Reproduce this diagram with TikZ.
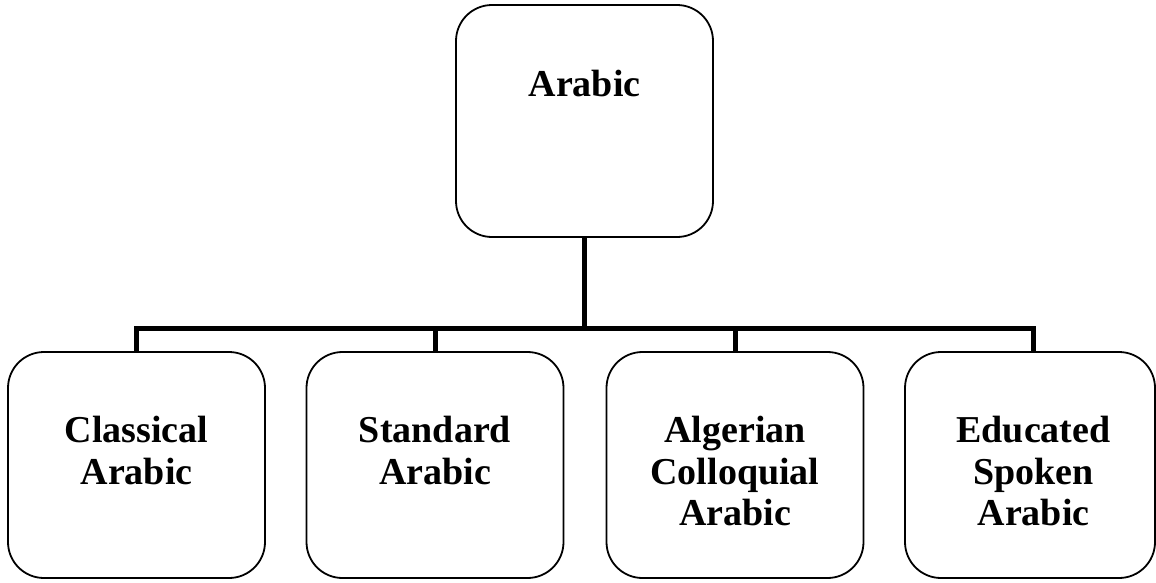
\documentclass[tikz,border=0pt]{standalone}
\usepackage{fontspec}
\setmainfont{Liberation Serif}
\begin{document}
\begin{tikzpicture}[x=1pt,y=1pt,
  box/.style={draw, line width=1.8pt, rounded corners=36pt, inner sep=0pt, minimum height=226pt, minimum width=257pt},
  lbl/.style={font=\bfseries\fontsize{38}{41.5}\selectfont, align=center, anchor=north, inner sep=0pt},
  conn/.style={line width=5pt, line join=miter}]
\useasboundingbox (0,0) rectangle (1156,-582);
% boxes
\node[box, minimum height=232pt] (top) at (584.5,-121) {};
\node[box] (b1) at (136.5,-465) {};
\node[box] (b2) at (435,-465) {};
\node[box] (b3) at (735,-465) {};
\node[box, minimum width=250pt] (b4) at (1030,-465) {};
% labels
\node[lbl] (t0) at ([yshift=-66pt]top.north) {Arabic};
\node[lbl] (t1) at ([yshift=-65pt]b1.north) {Classical\\Arabic};
\node[lbl] (t2) at ([yshift=-65pt]b2.north) {Standard\\Arabic};
\node[lbl] (t3) at ([yshift=-65pt]b3.north) {Algerian\\Colloquial\\Arabic};
\node[lbl] (t4) at ([shift={(3.5pt,-65pt)}]b4.north) {Educated\\Spoken\\Arabic};
% connectors
\coordinate (bus) at (0,-328.5);
\draw[conn] (top.south) -- (top.south |- bus);
\draw[conn] (b1.north) -- (b1.north |- bus) -- (t4 |- bus) -- (t4 |- b4.north);
\draw[conn] (b2.north) -- (b2.north |- bus);
\draw[conn] (b3.north) -- (b3.north |- bus);
\end{tikzpicture}
\end{document}
